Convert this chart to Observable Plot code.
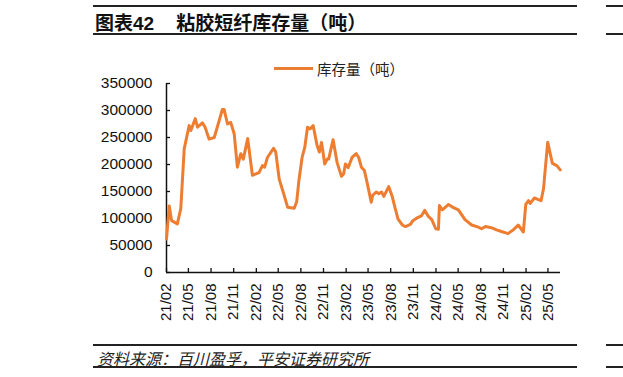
<!DOCTYPE html>
<html>
<head>
<meta charset="utf-8">
<script src="https://cdn.jsdelivr.net/npm/d3@7"></script>
<script src="https://cdn.jsdelivr.net/npm/@observablehq/plot@0.6"></script>
<style>
  html, body { margin: 0; padding: 0; background: #fff; overflow: hidden; }
  #wrap { position: relative; width: 623px; height: 377px; overflow: hidden; font-family: "Liberation Sans", Arial, "Noto Sans CJK SC", sans-serif; }
  #chart { position: absolute; left: 0; top: 0; }
  .hline { position: absolute; height: 0; border-top: 2px solid #222; }
  .title { position: absolute; font-weight: bold; font-size: 19px; color: #111; white-space: nowrap; font-family: "Liberation Sans", Arial, "Noto Sans CJK SC", sans-serif; }
  .cap { position: absolute; font-style: italic; font-weight: normal; font-size: 16px; color: #222; white-space: nowrap; font-family: "Noto Sans CJK SC", sans-serif; }
  #legend { position: absolute; left: 274px; top: 58px; display: flex; align-items: center; font-size: 14.5px; color: #222; font-family: "Noto Sans CJK SC", sans-serif; white-space: nowrap; }
  #legend .sw { width: 39px; height: 3px; background: #ED7D31; margin-right: 4px; }
</style>
</head>
<body>
<div id="wrap">
  <div id="chart"></div>
  <div class="hline" style="left:93px; width:484px; top:5px;"></div>
  <div class="title" style="left:95px; top:8px;">图表42<span style="display:inline-block;width:22px"></span>粘胶短纤库存量（吨）</div>
  <div class="hline" style="left:93px; width:484px; top:33px;"></div>
  <div class="hline" style="left:606px; width:100px; top:5px;"></div>
  <div class="hline" style="left:606px; width:100px; top:33px;"></div>
  <div id="legend"><div class="sw"></div><span>库存量（吨）</span></div>
  <div class="hline" style="left:93px; width:484px; top:344px;"></div>
  <div class="cap" style="left:97px; top:346px;">资料来源：百川盈孚，平安证券研究所</div>
  <div class="hline" style="left:93px; width:484px; top:366px;"></div>
  <div class="hline" style="left:606px; width:100px; top:344px;"></div>
  <div class="hline" style="left:606px; width:100px; top:366px;"></div>
</div>
<script>
// ---- data (tons) ----
const dates = [
  "2021-02-01","2021-02-12","2021-02-22","2021-03-17","2021-03-31","2021-04-14","2021-05-04","2021-05-11",
  "2021-05-29","2021-06-07","2021-06-27","2021-07-08","2021-07-24","2021-08-14","2021-09-03","2021-09-16",
  "2021-09-23","2021-10-07","2021-10-20","2021-11-03","2021-11-16","2021-11-30","2021-12-10","2021-12-28",
  "2022-01-16","2022-02-12","2022-02-26","2022-03-07","2022-03-18","2022-04-12","2022-04-21","2022-05-05",
  "2022-05-25","2022-06-08","2022-07-05","2022-07-15","2022-07-24","2022-08-06","2022-08-17","2022-08-28",
  "2022-09-08","2022-09-20","2022-10-06","2022-10-15","2022-10-24","2022-11-06","2022-11-16","2022-11-22",
  "2022-12-10","2022-12-26","2023-01-13","2023-01-22","2023-01-29","2023-02-09","2023-02-25","2023-03-14",
  "2023-03-24","2023-04-04","2023-04-16","2023-04-27","2023-05-14","2023-05-20","2023-06-03","2023-06-14",
  "2023-06-25","2023-07-04","2023-07-24","2023-08-07","2023-08-18","2023-08-31","2023-09-17","2023-09-30",
  "2023-10-20","2023-10-30","2023-11-16","2023-12-04","2023-12-17","2024-01-01","2024-01-15","2024-01-31",
  "2024-02-11","2024-02-15","2024-02-27","2024-03-23","2024-04-12","2024-05-02","2024-05-29","2024-06-25",
  "2024-07-22","2024-08-04","2024-08-20","2024-09-13","2024-10-04","2024-10-24","2024-11-20","2024-12-11",
  "2024-12-31","2025-01-21","2025-01-31","2025-02-11","2025-02-18","2025-03-07","2025-03-23","2025-04-03",
  "2025-04-13","2025-04-22","2025-04-30","2025-05-19","2025-06-06","2025-06-20"
];
const stock = [
  62000,123000,96000,90000,118000,229000,272000,263000,
  285000,269000,277000,269000,247000,250000,281000,302000,
  302000,275000,278000,257000,195000,220000,210000,248000,
  180000,185000,198000,195000,213000,230000,223000,173000,
  143000,121000,119000,131000,170000,213000,232000,269000,
  266000,272000,235000,223000,241000,201000,210000,210000,
  246000,204000,178000,183000,201000,194000,213000,220000,
  213000,195000,189000,167000,130000,143000,149000,146000,
  149000,141000,159000,141000,121000,99000,88000,85000,
  89000,96000,101000,105000,115000,104000,98000,81000,
  80000,124000,116000,126000,120000,116000,98000,88000,
  84000,81000,85000,83000,79000,76000,72000,79000,
  88000,75000,126000,133000,128000,138000,135000,133000,
  155000,201000,241000,202000,198000,190000
];
const xTickLabels = ["21/02","21/05","21/08","21/11","22/02","22/05","22/08","22/11","23/02","23/05","23/08","23/11","24/02","24/05","24/08","24/11","25/02","25/05"];
const yTicks = [0,50000,100000,150000,200000,250000,300000,350000];
const seriesName = "库存量（吨）";

// ---- build ----
const data = dates.map((d, i) => ({date: new Date(d + "T00:00:00Z"), value: stock[i]}));
const xTicks = xTickLabels.map(s => new Date(Date.UTC(2000 + +s.slice(0, 2), +s.slice(3) - 1, 1)));
const xDomain = [xTicks[0], new Date(Date.UTC(2025, 5, 21))];
const fmt = d3.utcFormat("%y/%m");

const chart = Plot.plot({
  width: 623,
  height: 340,
  marginLeft: 166,
  marginRight: 63,
  marginTop: 83,
  marginBottom: 68,
  style: {fontFamily: '"Liberation Sans", Arial, sans-serif', color: "#111", background: "transparent", overflow: "visible"},
  x: {type: "utc", domain: xDomain},
  y: {domain: [0, 350000]},
  marks: [
    Plot.axisY({ticks: yTicks, tickSize: -4, tickPadding: 18, tickFormat: d3.format("d"), fontSize: 15.5, stroke: "#111", strokeWidth: 1.3, label: null}),
    Plot.axisX({ticks: xTicks, tickSize: -4, tickPadding: 15, tickRotate: -90, tickFormat: fmt, fontSize: 15, stroke: "#111", strokeWidth: 1.3, label: null}),
    Plot.ruleY([0], {stroke: "#111", strokeWidth: 1.5}),
    Plot.ruleX([xDomain[0]], {stroke: "#111", strokeWidth: 1.5}),
    Plot.line(data, {x: "date", y: "value", stroke: "#ED7D31", strokeWidth: 3, strokeLinejoin: "round", title: () => seriesName})
  ]
});
document.getElementById("chart").appendChild(chart);
</script>
</body>
</html>
